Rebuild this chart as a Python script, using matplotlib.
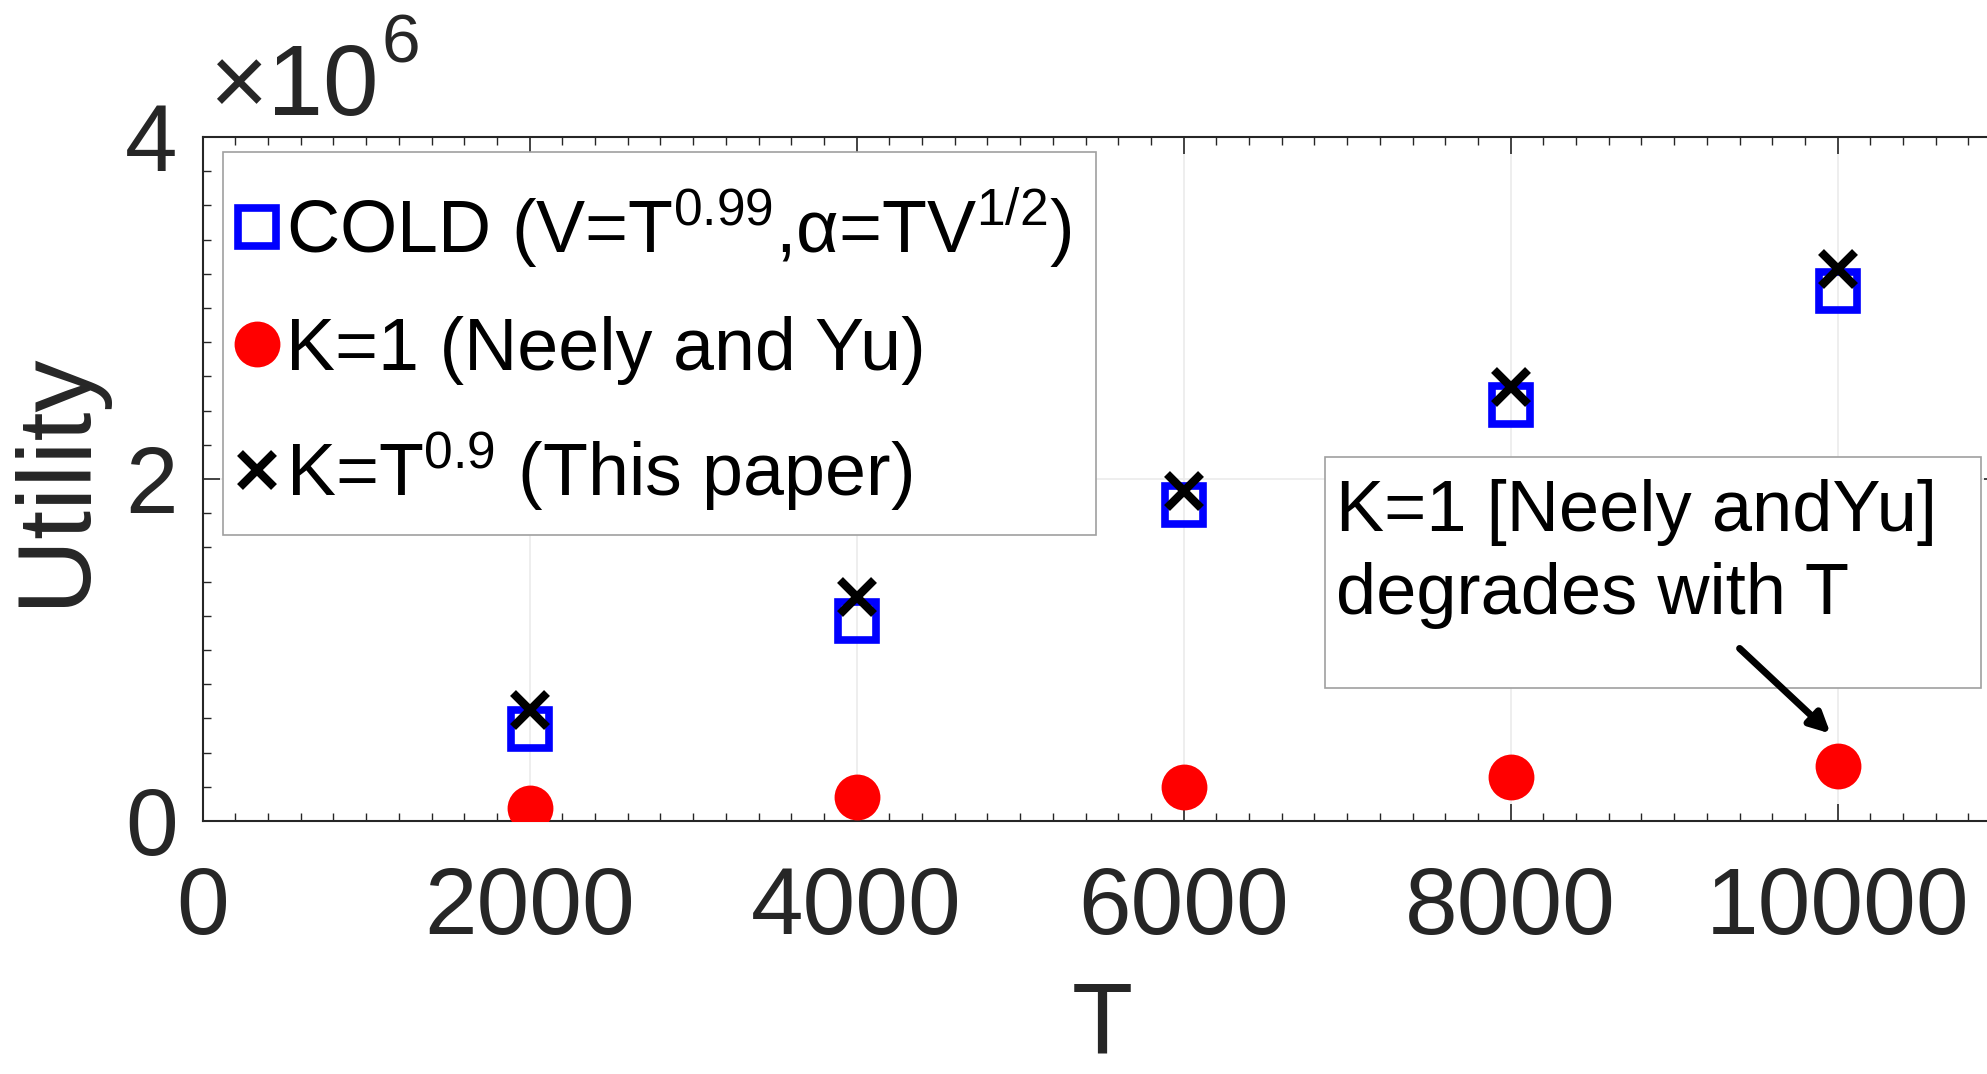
import matplotlib
matplotlib.use("Agg")
import matplotlib.pyplot as plt
from matplotlib.ticker import MultipleLocator, FuncFormatter
from matplotlib.patches import Rectangle

plt.rcParams['font.family'] = ['Liberation Sans', 'DejaVu Sans']
plt.rcParams['mathtext.fontset'] = 'custom'
plt.rcParams['mathtext.rm'] = 'Liberation Sans'
plt.rcParams['mathtext.it'] = 'Liberation Sans:italic'

# data
T = [2000, 4000, 6000, 8000, 10000]
cold = [0.54e6, 1.17e6, 1.85e6, 2.43e6, 3.10e6]
k_one = [0.074e6, 0.14e6, 0.20e6, 0.26e6, 0.32e6]
k_paper = [0.65e6, 1.31e6, 1.93e6, 2.54e6, 3.23e6]

labels = [r'COLD (V=T$^{0.99}$,α=TV$^{1/2}$)',
          'K=1 (Neely and Yu)',
          r'K=T$^{0.9}$ (This paper)']

dark = '#262626'

fig = plt.figure(figsize=(19.87, 10.74), dpi=100)
ax = fig.add_axes([0.102, 0.2356, 0.9051, 0.6369])

ax.plot(T, cold, linestyle='none', marker='s', markersize=27, markerfacecolor='none',
        markeredgecolor='#0000ff', markeredgewidth=5.5, label=labels[0], zorder=3)
ax.plot(T, k_one, linestyle='none', marker='o', markersize=33, color='#ff0000',
        markeredgewidth=0, label=labels[1], zorder=3)
ax.plot(T, k_paper, linestyle='none', marker='x', markersize=24, color='black',
        markeredgewidth=6, label=labels[2], zorder=4)

ax.set_xlim(0, 11000)
ax.set_ylim(0, 4e6)
ax.xaxis.set_major_locator(MultipleLocator(2000))
ax.xaxis.set_minor_locator(MultipleLocator(200))
ax.yaxis.set_major_locator(MultipleLocator(2e6))
ax.yaxis.set_minor_locator(MultipleLocator(0.2e6))
ax.yaxis.set_major_formatter(FuncFormatter(lambda v, p: '%d' % round(v / 1e6)))

ax.tick_params(which='both', direction='in', top=True, right=True, colors=dark)
ax.tick_params(which='major', length=12, width=1.2, labelsize=68)
ax.tick_params(axis='x', which='major', pad=32)
ax.tick_params(axis='y', which='major', pad=18)
ax.tick_params(which='minor', length=6, width=1)
for s in ax.spines.values():
    s.set_color(dark)
    s.set_linewidth(1.5)
ax.grid(True, which='major', color='#ebebeb', linewidth=1.2, zorder=0)

ax.set_xlabel('T', fontsize=72, color=dark, labelpad=18)
ax.set_ylabel('Utility', fontsize=75, color=dark, labelpad=14)

# exponent label, MATLAB style
fig.text(0.105, 0.893, '×10', fontsize=72, color=dark, ha='left', va='baseline')
fig.text(0.192, 0.942, '6', fontsize=50, color=dark, ha='left', va='baseline')

# legend without frame, frame drawn separately
leg = ax.legend(loc='upper left', bbox_to_anchor=(0.020, 0.929), fontsize=53,
                handlelength=0.5, handletextpad=0.15, borderpad=0,
                labelspacing=0.62, borderaxespad=0, frameon=False)
ax.add_patch(Rectangle((0.0111, 0.418), 0.497 - 0.0111, 0.978 - 0.418,
                       transform=ax.transAxes, facecolor='white',
                       edgecolor='#a0a0a0', linewidth=1.2, zorder=4.5))
leg.set_zorder(5)

# text box with arrow
ax.add_patch(Rectangle((6862, 0.78e6), 10880 - 6862, 2.13e6 - 0.78e6, facecolor='white',
                       edgecolor='#a0a0a0', linewidth=1.2, zorder=5))
ax.text(6930, 1.56e6, 'K=1 [Neely andYu]\ndegrades with T', fontsize=52, color='black',
        ha='left', va='center', linespacing=1.3, zorder=6)
ax.annotate('', xy=(9969, 0.50e6), xytext=(9388, 1.02e6),
            arrowprops=dict(arrowstyle='-|>', color='black', lw=5, mutation_scale=30),
            zorder=6)

fig.savefig('out.png', dpi=100)
